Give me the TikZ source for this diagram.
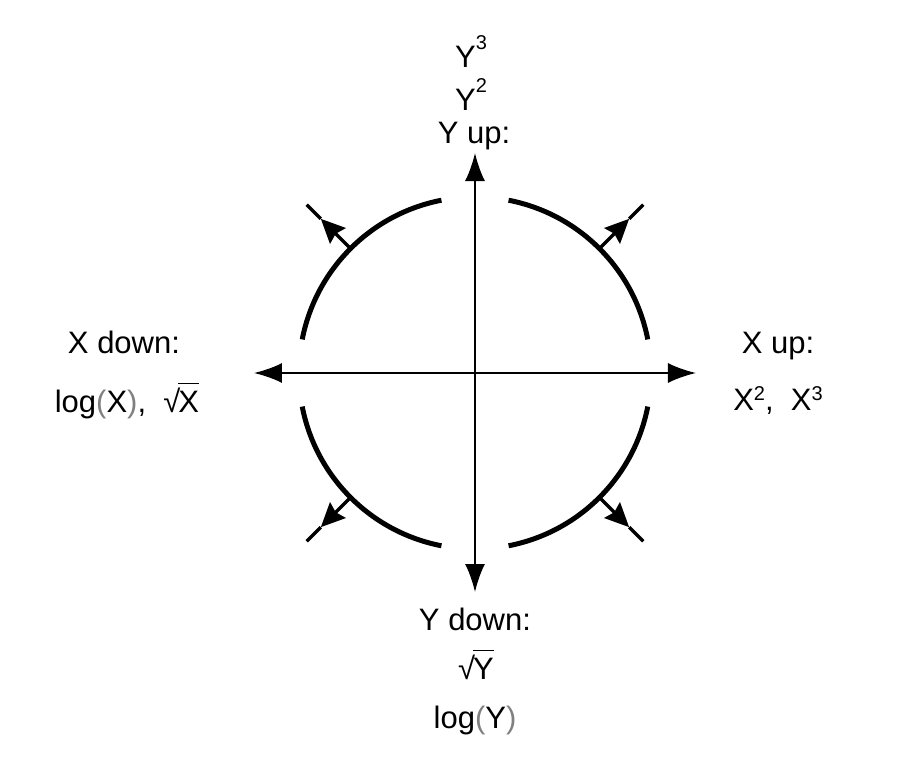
\documentclass[tikz,border=0pt]{standalone}
\usepackage{fontspec}
\setmainfont{Liberation Sans}
\usepackage{xcolor}
\usetikzlibrary{arrows.meta}
% radical with bar, small raised power, grey parentheses
\newcommand{\sq}[1]{√\kern-0.06em\vbox{\hrule height 0.7pt\kern 3.2pt\hbox{#1}}}
\newcommand{\pw}[2][5pt]{\raisebox{#1}{\fontsize{10}{10}\selectfont #2}}
\newcommand{\pn}[1]{\textcolor{gray}{(}#1\textcolor{gray}{)}}

\begin{document}
\begin{tikzpicture}[x=0.5pt, y=0.5pt, >={Latex[length=14pt,width=10pt]},
  lbl/.style={anchor=base, inner sep=0pt, font=\fontsize{15.5}{18}\selectfont},
  axis/.style={line width=1pt, <->},
  arcline/.style={line width=2.5pt},
  tickline/.style={line width=1.6pt}]
  \useasboundingbox (-475,-389) rectangle (437,373);

  \coordinate (O) at (0,0);
  \coordinate (E) at (221,0);
  \coordinate (W) at (-221,0);
  \coordinate (N) at (0,220);
  \coordinate (S) at (0,-219);

  % axes
  \draw[axis] (W) -- (E);
  \draw[axis] (S) -- (N);

  % quarter arcs with outward arrows
  \foreach \a in {0,90,180,270} {
    \draw[arcline] (\a+11:176) arc[start angle=\a+11, end angle=\a+79, radius=176];
    \coordinate (in\a) at (\a+45:177);
    \coordinate (tip\a) at (\a+45:218);
    \coordinate (out\a) at (\a+45:238);
    \draw[tickline, -{Stealth[length=12pt,width=11pt,inset=1.5pt]}] (in\a) -- (tip\a);
    \draw[tickline] (tip\a) -- (out\a);
  }

  % labels
  \node[lbl] (ycube) at (-4,306) {Y\pw[9pt]{3}};
  \node[lbl] (ysq) at (-4,263) {Y\pw[9pt]{2}};
  \node[lbl] (yup) at (-1,230) {Y up:};
  \node[lbl] (ydown) at (0,-257) {Y down:};
  \node[lbl] (yroot) at (1,-306) {\sq{Y}};
  \node[lbl] (ylog) at (0,-355) {log\pn{Y}};
  \node[lbl] (xdown) at (-351,20) {X down:};
  \node[lbl] (xlog) at (-348,-39) {log\pn{X}, \ \sq{X}};
  \node[lbl] (xup) at (303,20) {X up:};
  \node[lbl] (xpow) at (303,-37) {X\pw{2}, \ X\pw{3}};
\end{tikzpicture}
\end{document}
